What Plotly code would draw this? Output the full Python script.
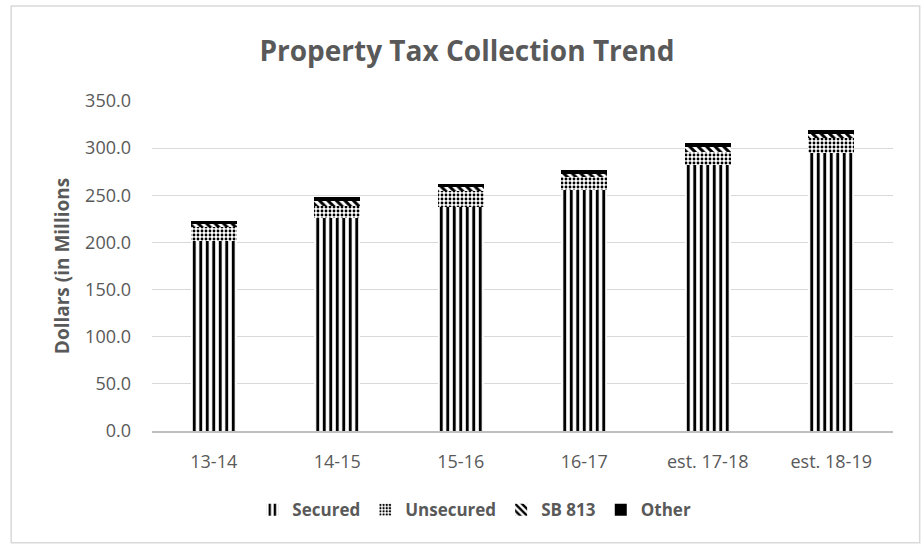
import plotly.graph_objects as go

categories = ["13-14", "14-15", "15-16", "16-17", "est. 17-18", "est. 18-19"]
secured = [202, 226, 238, 255.5, 282, 295]
unsecured = [14, 13, 17, 14, 14, 16]
sb813 = [4, 5, 4, 3.5, 5, 4]
other = [3, 4, 3, 3.5, 4, 4]
y_ticks = [0, 50, 100, 150, 200, 250, 300, 350]

series = [
    ("Secured", secured, dict(shape="|", size=6.5, solidity=0.45)),
    ("Unsecured", unsecured, dict(shape=".", size=4, solidity=0.4)),
    ("SB 813", sb813, dict(shape="\\", size=6, solidity=0.5)),
    ("Other", other, None),
]

fig = go.Figure()
for name, vals, pat in series:
    if pat is None:
        marker = dict(color="black", line=dict(width=0))
    else:
        marker = dict(color="white", line=dict(width=0),
                      pattern=dict(fgcolor="black", bgcolor="white", fgopacity=1, fillmode="replace", **pat))
    fig.add_trace(go.Bar(x=categories, y=vals, name="<b>" + name + "</b>", marker=marker, width=0.37))

fig.update_layout(
    barmode="stack",
    width=921, height=544,
    margin=dict(l=152, r=28, t=101, b=113),
    paper_bgcolor="white", plot_bgcolor="white",
    font=dict(family="Open Sans", color="#595959"),
    title=dict(text="<b>Property Tax Collection Trend</b>", x=0.507, xanchor="center",
               y=0.905, yanchor="middle", font=dict(size=28, color="#595959", family="Open Sans")),
    yaxis=dict(range=[0, 350], tickvals=y_ticks, tickformat=".1f", showgrid=True,
               gridcolor="#d9d9d9", gridwidth=1, zeroline=False, showline=False,
               tickfont=dict(size=18, color="#595959"), ticks="", ticklen=0, ticklabelstandoff=20,
               title=dict(text="<b>Dollars (in Millions</b>", font=dict(size=19, color="#595959"), standoff=10)),
    xaxis=dict(showline=True, linecolor="#bfbfbf", linewidth=1.5, showgrid=False,
               tickfont=dict(size=18, color="#595959"), ticks="", ticklabelstandoff=14),
    legend=dict(orientation="h", x=0.435, xanchor="center", y=-0.24, yanchor="middle",
                font=dict(size=17, color="#595959"), traceorder="normal",
                itemwidth=30, bgcolor="rgba(0,0,0,0)"),
    bargap=0.63,
    shapes=[dict(type="rect", xref="paper", yref="paper", x0=-0.190, x1=1.036, y0=-0.339, y1=1.288,
                 line=dict(color="#d9d9d9", width=1.5), fillcolor="rgba(0,0,0,0)", layer="below")],
)

fig.write_html("out.html")
